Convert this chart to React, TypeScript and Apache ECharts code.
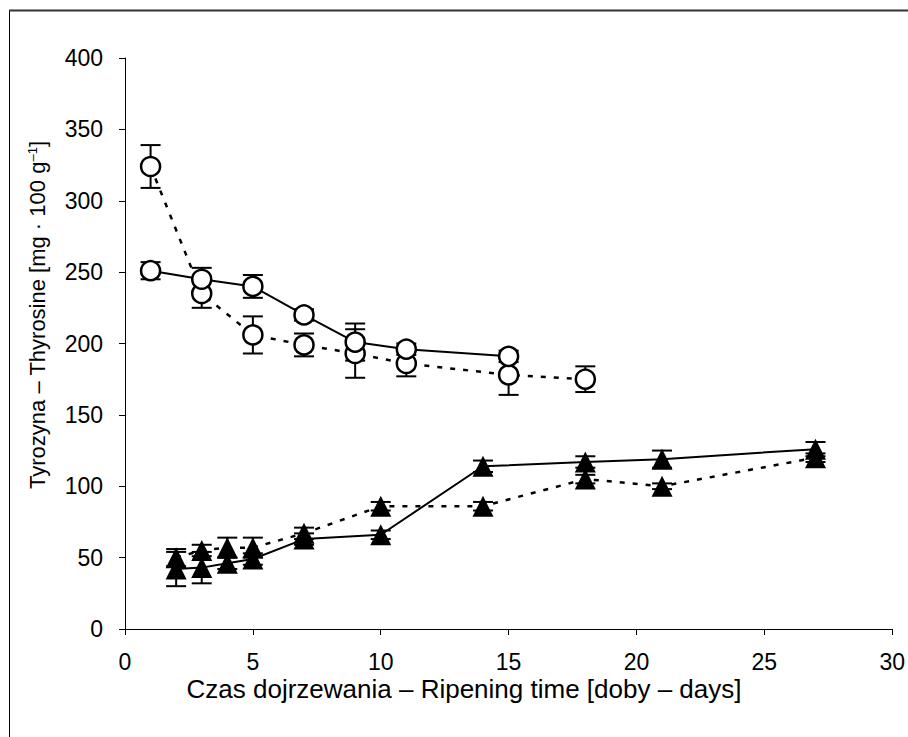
import React, { useEffect, useRef } from "react";
import * as echarts from "echarts";

// ---- Data ----
const openSolidDays = [1, 3, 5, 7, 9, 11, 15];
const openSolidValues = [251, 245, 240, 220, 201, 196, 191];
const openSolidErrors = [6, 8, 8, 4, 13, 4, 4];

const openDottedDays = [1, 3, 5, 7, 9, 11, 15, 18];
const openDottedValues = [324, 235, 206, 199, 193, 186, 178, 175];
const openDottedErrors = [15, 10, 13, 8, 17, 9, 14, 9];

const triSolidDays = [2, 3, 4, 5, 7, 10, 14, 18, 21, 27];
const triSolidValues = [42, 43, 46, 49, 63, 66, 114, 117, 119, 126];
const triSolidErrors = [12, 11, 4, 4, 4, 3, 4, 4, 6, 5];

const triDottedDays = [2, 3, 4, 5, 7, 10, 14, 18, 21, 27];
const triDottedValues = [50, 55, 57, 57, 67, 86, 86, 105, 100, 120];
const triDottedErrors = [6, 4, 7, 7, 4, 3, 3, 3, 2, 3];

const yTicks = { min: 0, max: 400, interval: 50 };
const xTicks = { min: 0, max: 30, interval: 5 };

const xName = "Czas dojrzewania – Ripening time [doby – days]";
const yNameMain = "Tyrozyna – Thyrosine [mg · 100 g";
const yNameSup = "–1";
const yNameEnd = "]";

const FONT = "'Liberation Sans', Arial, sans-serif";

function pts(days: number[], vals: number[]) {
  return days.map((d, i) => [d, vals[i]]);
}
function errs(days: number[], vals: number[], e: number[]) {
  return days.map((d, i) => [d, vals[i], e[i]]);
}

const errorRender = (params: any, api: any) => {
  const x = api.value(0);
  const y = api.value(1);
  const e = api.value(2);
  const top = api.coord([x, y + e]);
  const bot = api.coord([x, y - e]);
  const hw = 10;
  const style = { stroke: "#000", lineWidth: 2 };
  return {
    type: "group",
    children: [
      { type: "line", shape: { x1: top[0], y1: top[1], x2: bot[0], y2: bot[1] }, style },
      { type: "line", shape: { x1: top[0] - hw, y1: top[1], x2: top[0] + hw, y2: top[1] }, style },
      { type: "line", shape: { x1: bot[0] - hw, y1: bot[1], x2: bot[0] + hw, y2: bot[1] }, style },
    ],
  };
};

export default function App() {
  const ref = useRef<HTMLDivElement>(null);
  useEffect(() => {
    if (!ref.current) return;
    const chart = echarts.init(ref.current, null, { renderer: "svg" });
    const dashed = [5, 8];
    const errSeries = (d: number[], v: number[], e: number[]) => ({
      type: "custom",
      renderItem: errorRender,
      data: errs(d, v, e),
      z: 1,
      silent: true,
    });
    const lineSeries = (
      d: number[],
      v: number[],
      symbol: string,
      size: number,
      dash: boolean,
      open: boolean
    ) => ({
      type: "line",
      data: pts(d, v),
      symbol,
      symbolSize: size,
      showAllSymbol: true,
      z: 3,
      lineStyle: { color: "#000", width: dash ? 2.5 : 2, type: dash ? dashed : "solid" },
      itemStyle: open
        ? { color: "#fff", borderColor: "#000", borderWidth: 2.5 }
        : { color: "#000", borderColor: "#000", borderWidth: 0 },
      emphasis: { disabled: true },
    });
    chart.setOption({
      animation: false,
      backgroundColor: "#fff",
      grid: { left: 125, right: 14, top: 58, bottom: 108, containLabel: false },
      xAxis: {
        type: "value",
        min: xTicks.min,
        max: xTicks.max,
        interval: xTicks.interval,
        axisLine: { show: true, lineStyle: { color: "#000", width: 1 } },
        axisTick: { show: true, inside: false, length: 6, lineStyle: { color: "#000" } },
        axisLabel: { color: "#000", fontSize: 23, fontFamily: FONT, margin: 21 },
        splitLine: { show: false },
      },
      yAxis: {
        type: "value",
        min: yTicks.min,
        max: yTicks.max,
        interval: yTicks.interval,
        axisLine: { show: true, lineStyle: { color: "#000", width: 1 } },
        axisTick: { show: true, inside: false, length: 6, lineStyle: { color: "#000" } },
        axisLabel: { color: "#000", fontSize: 23, fontFamily: FONT, margin: 22 },
        splitLine: { show: false },
      },
      graphic: [
        {
          type: "rect",
          shape: { x: 9.5, y: 10.5, width: 1200, height: 1200 },
          style: { fill: "none", stroke: "#000", lineWidth: 1 },
          silent: true,
        },
        {
          type: "line",
          shape: { x1: 9, y1: 10.5, x2: 908, y2: 10.5 },
          style: { stroke: "#333", lineWidth: 2 },
          silent: true,
        },
        {
          type: "text",
          x: 464,
          y: 689,
          style: {
            text: xName,
            fontSize: 26,
            fontFamily: FONT,
            fill: "#000",
            align: "center",
            verticalAlign: "middle",
          },
        },
        {
          type: "text",
          x: 37,
          y: 315,
          rotation: Math.PI / 2,
          style: {
            text: yNameMain + "{sup|" + yNameSup + "}" + yNameEnd,
            fontSize: 22,
            fontFamily: FONT,
            fill: "#000",
            align: "center",
            verticalAlign: "middle",
            rich: {
              sup: { fontSize: 13, fontFamily: FONT, fill: "#000", verticalAlign: "top" },
            },
          },
        },
      ],
      series: [
        errSeries(openSolidDays, openSolidValues, openSolidErrors),
        errSeries(openDottedDays, openDottedValues, openDottedErrors),
        errSeries(triSolidDays, triSolidValues, triSolidErrors),
        errSeries(triDottedDays, triDottedValues, triDottedErrors),
        lineSeries(openDottedDays, openDottedValues, "circle", 19, true, true),
        lineSeries(openSolidDays, openSolidValues, "circle", 19, false, true),
        lineSeries(triDottedDays, triDottedValues, "triangle", 21, true, false),
        lineSeries(triSolidDays, triSolidValues, "triangle", 21, false, false),
      ],
    });
    return () => chart.dispose();
  }, []);
  return (
    <div
      ref={ref}
      style={{ position: "absolute", left: 0, top: 0, width: 908, height: 737 }}
    />
  );
}
